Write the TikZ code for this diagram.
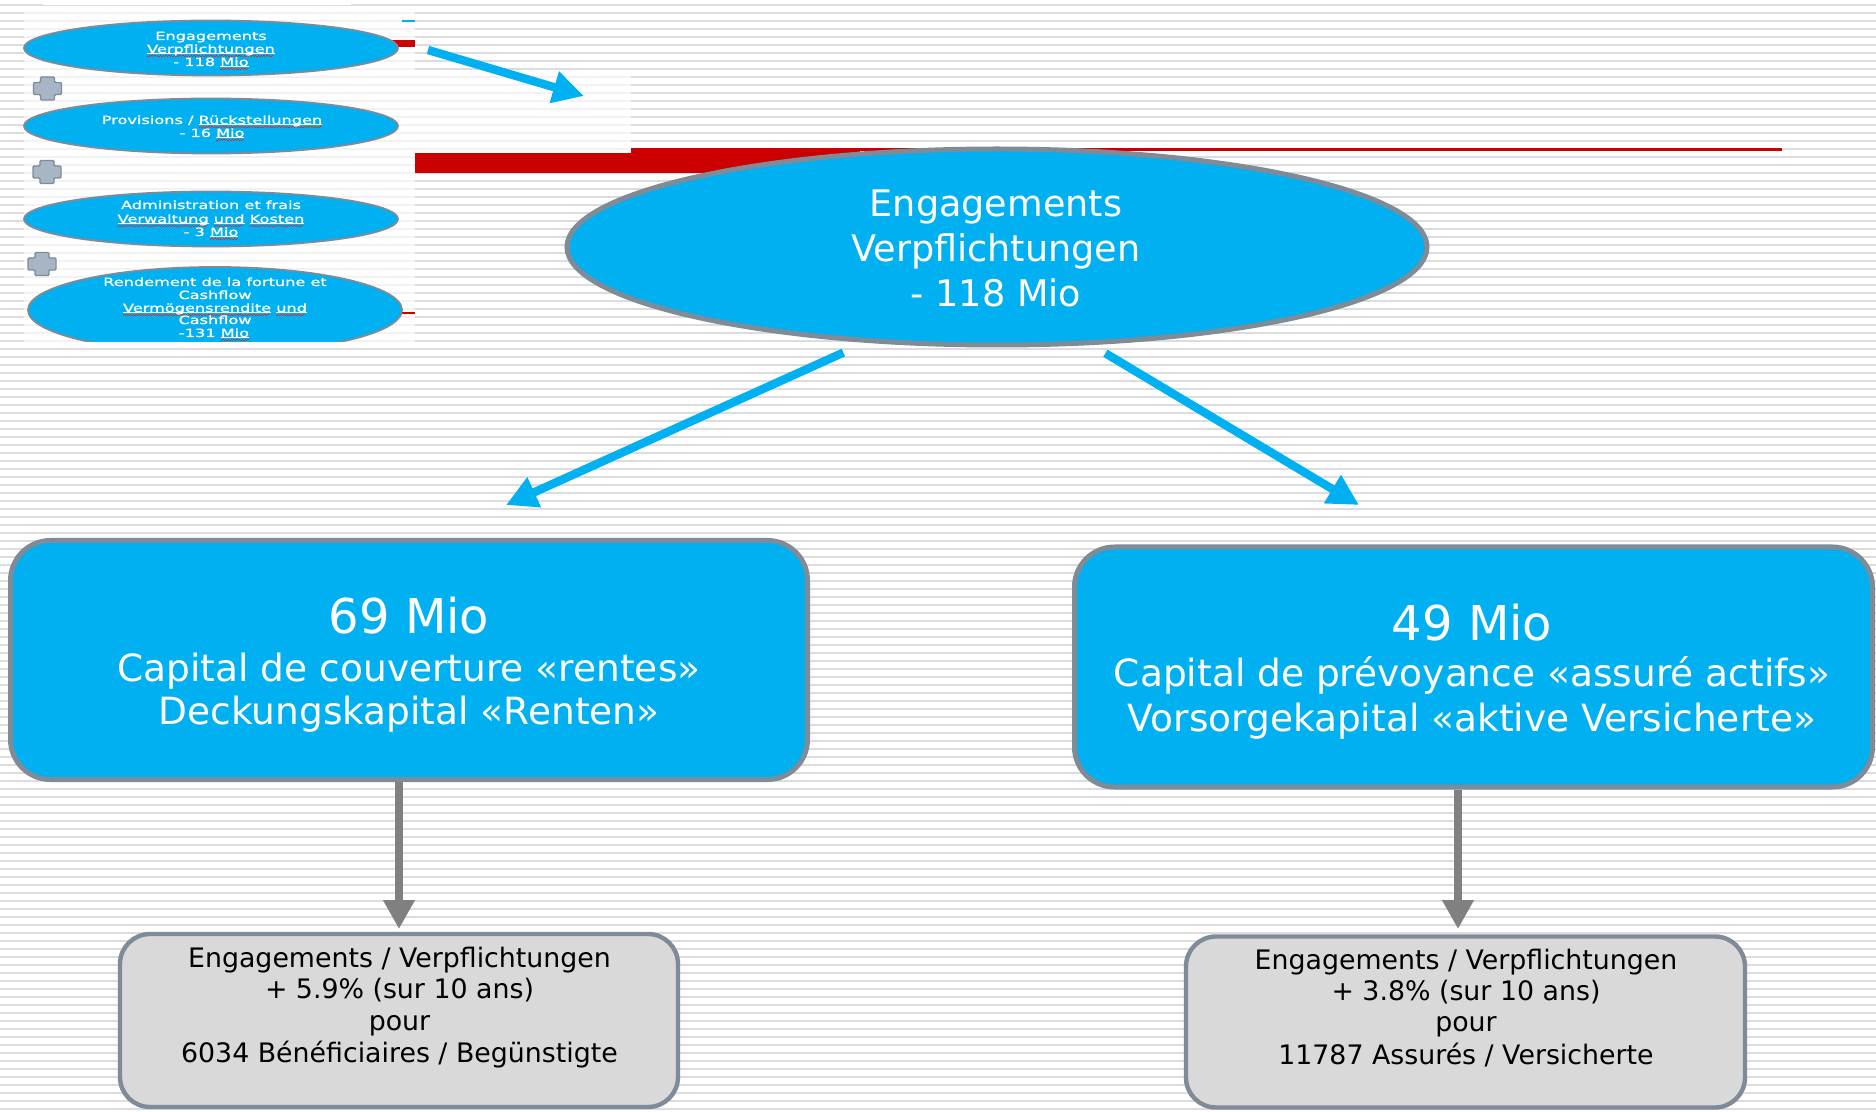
\documentclass[tikz,border=0pt]{standalone}
\usepackage{fontspec}
\setmainfont{DejaVu Sans}
\newfontfamily\smallf[FakeStretch=1.43,FakeBold=1.2]{DejaVu Sans}
\usetikzlibrary{shapes.geometric,arrows.meta}
\definecolor{cyanb}{HTML}{00B0F0}
\definecolor{bord}{HTML}{7F8B97}
\definecolor{stripe}{HTML}{DCDCDC}
\definecolor{redbar}{HTML}{CC0000}
\definecolor{wavered}{HTML}{E02828}
\definecolor{plusfill}{HTML}{A7B5C4}
\definecolor{greyarrow}{HTML}{808080}
\definecolor{greyfill}{HTML}{D9D9D9}
\newcommand\sq[1]{\setbox0=\hbox{#1}\rlap{\color{white}\rule[-0.7pt]{\wd0}{0.45pt}}\rlap{\color{wavered}\hbox to \wd0{\leaders\hbox{\rule[-2.1pt]{0.7pt}{0.5pt}\rule[-1.7pt]{0.7pt}{0.5pt}}\hfil}}\box0\relax}
\begin{document}
\begin{tikzpicture}[x=0.5pt,y=-0.5pt,
  sell/.style={ellipse,draw=bord,fill=cyanb,line width=0.9pt,inner sep=0,minimum width=187pt,minimum height=27.5pt},
  stext/.style={text=white,font=\smallf\fontsize{5.65pt}{6.5pt}\selectfont,inner sep=0,anchor=base},
  bigell/.style={ellipse,draw=bord,fill=cyanb,line width=2.5pt,inner sep=0,minimum width=430pt,minimum height=98pt},
  bluebox/.style={draw=bord,fill=cyanb,line width=2.5pt,rounded corners=20pt,inner sep=0},
  greybox/.style={draw=bord,fill=greyfill,line width=2.2pt,rounded corners=15pt,inner sep=0},
  elltxt/.style={text=white,font=\fontsize{18.3pt}{22pt}\selectfont,inner sep=0,anchor=base},
  numtxt/.style={text=white,font=\fontsize{24pt}{28pt}\selectfont,inner sep=0,anchor=base},
  boxtxt/.style={text=white,font=\fontsize{18.75pt}{22pt}\selectfont,inner sep=0,anchor=base},
  greytxt/.style={text=black,font=\fontsize{13.4pt}{16pt}\selectfont,inner sep=0,anchor=base},
  bluearrow/.style={draw=cyanb,line width=4.2pt,-{Triangle[length=15.5pt,width=15.5pt]}},
  greyarr/.style={draw=greyarrow,line width=4.4pt,-{Triangle[length=14.5pt,width=15pt]}},
  plussign/.pic={\draw[draw=bord,fill=plusfill,line width=0.7pt,rounded corners=0.6pt]
     (-14,-6) -- (-7,-6) -- (-7,-11.5) -- (7,-11.5) -- (7,-6) -- (14,-6) -- (14,6) -- (7,6)
     -- (7,11.5) -- (-7,11.5) -- (-7,6) -- (-14,6) -- cycle;}
]
\useasboundingbox (0,0) rectangle (1876,1112);
\fill[white] (0,0) rectangle (1876,1112);
\foreach \k in {0,...,138} \fill[stripe] (0,{4+8*\k}) rectangle (1876,{6+8*\k});
% inset panel
\fill[white,opacity=0.65] (24,9) rectangle (415,342);
\fill[white] (43,0) rectangle (351,5);
% red bars behind
\fill[redbar] (415,153) rectangle (860,173);
\fill[redbar] (631,148) rectangle (860,153);
\fill[redbar] (631,148) rectangle (1782,151);
\fill[white,opacity=0.65] (415,76) rectangle (631,153);
\fill[redbar] (392,40) rectangle (415,47);
\fill[cyanb] (402,20) rectangle (415,22);
\fill[redbar] (396,312) rectangle (415,314);
% small ellipses
\node[sell] (e1) at (211,48) {};
\node[stext] (e1a) at (211,40) {Engagements};
\node[stext] (e1b) at (211,53) {\sq{Verpflichtungen}};
\node[stext] (e1c) at (211,66) {- 118 \sq{Mio}};
\pic at (47.5,88.5) {plussign};
\node[sell] (e2) at (211,126) {};
\node[stext] (e2a) at (212,124) {Provisions / \sq{Rückstellungen}};
\node[stext] (e2b) at (212,137) {- 16 \sq{Mio}};
\pic at (47,172) {plussign};
\node[sell] (e3) at (211,219) {};
\node[stext] (e3a) at (211,209) {Administration et frais};
\node[stext] (e3b) at (211,223) {\sq{Verwaltung} \sq{und} \sq{Kosten}};
\node[stext] (e3c) at (211,236) {- 3 \sq{Mio}};
\pic at (42,264) {plussign};
\begin{scope}
\clip (20,9) rectangle (415,342);
\node[sell,minimum height=43pt] (e4) at (215,310) {};
\end{scope}
\node[stext] (e4a) at (215,286) {Rendement de la fortune et};
\node[stext] (e4b) at (215,299) {Cashflow};
\node[stext] (e4c) at (215,312) {\sq{Vermögensrendite} \sq{und}};
\node[stext] (e4d) at (215,324) {Cashflow};
\node[stext] (e4e) at (214,337) {-131 \sq{Mio}};
% small arrow
\coordinate (sa) at (428,50);
\coordinate (sb) at (584,96);
\draw[bluearrow] (sa) -- (sb);
% big ellipse
\node[bigell] (big) at (997,247) {};
\node[elltxt] (biga) at (996,217) {Engagements};
\node[elltxt] (bigb) at (996,262) {Verpflichtungen};
\node[elltxt] (bigc) at (996,307) {- 118 Mio};
% blue boxes
\node[bluebox,minimum width=398.5pt,minimum height=119.5pt] (lb) at (409,660) {};
\node[numtxt] (lb1) at (409,634) {69 Mio};
\node[boxtxt] (lb2) at (409,682) {Capital de couverture «rentes»};
\node[boxtxt] (lb3) at (409,725) {Deckungskapital «Renten»};
\node[bluebox,minimum width=399pt,minimum height=120pt] (rb) at (1473.5,667) {};
\node[numtxt] (rb1) at (1472,641) {49 Mio};
\node[boxtxt] (rb2) at (1472,687) {Capital de prévoyance «assuré actifs»};
\node[boxtxt] (rb3) at (1472,732) {Vorsorgekapital «aktive Versicherte»};
% grey boxes
\node[greybox,minimum width=279pt,minimum height=86.5pt] (lg) at (399,1020.5) {};
\node[greytxt] (lg1) at (399.5,967) {Engagements / Verpflichtungen};
\node[greytxt] (lg2) at (399.5,998) {+ 5.9\% (sur 10 ans)};
\node[greytxt] (lg3) at (399.5,1030) {pour};
\node[greytxt] (lg4) at (399.5,1062) {6034 Bénéficiaires / Begünstigte};
\node[greybox,minimum width=279.5pt,minimum height=85.5pt] (rg) at (1465.5,1022) {};
\node[greytxt] (rg1) at (1466,969) {Engagements / Verpflichtungen};
\node[greytxt] (rg2) at (1466,1000) {+ 3.8\% (sur 10 ans)};
\node[greytxt] (rg3) at (1466,1031) {pour};
\node[greytxt] (rg4) at (1466,1064) {11787 Assurés / Versicherte};
% arrows from big ellipse
\coordinate (la) at (506,505);
\coordinate (ra) at (1359,505);
\draw[bluearrow,shorten <=12pt] (big.216) -- (la);
\draw[bluearrow,shorten <=8pt] (big.314) -- (ra);
% grey arrows
\coordinate (lt) at (399,929);
\coordinate (rt) at (1458,929);
\draw[greyarr] (lb.south -| lt) -- (lt);
\draw[greyarr] (rb.south -| rt) -- (rt);
\end{tikzpicture}
\end{document}
